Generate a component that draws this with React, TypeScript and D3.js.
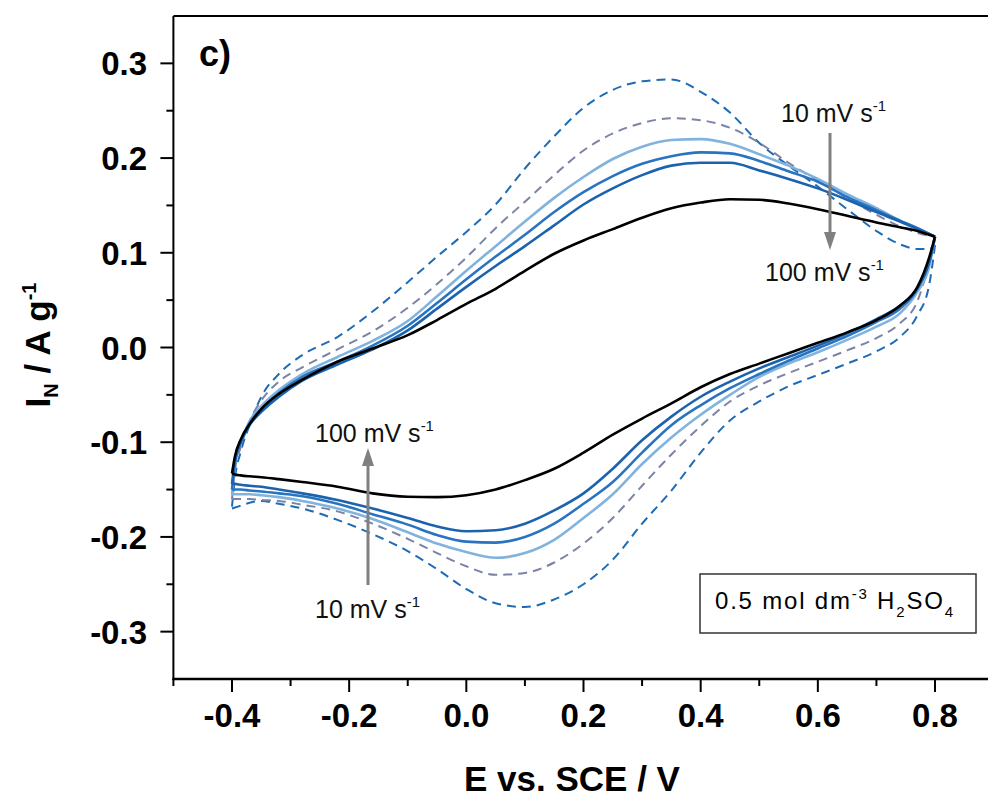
import React from 'react';
import * as d3 from 'd3';

// Potential grid (V vs SCE) shared by all branches
const E_GRID = [-0.4, -0.395, -0.385, -0.37, -0.35, -0.32, -0.28, -0.22, -0.16, -0.1, -0.05, 0, 0.05, 0.1, 0.15, 0.2, 0.25, 0.3, 0.35, 0.4, 0.45, 0.5, 0.55, 0.6, 0.65, 0.7, 0.74, 0.77, 0.79, 0.8];

// Normalised current (A g-1), anodic (upper) and cathodic (lower) branches, ascending E
const dashedBlueUp = [-0.168, -0.138, -0.11, -0.082, -0.052, -0.028, -0.008, 0.011, 0.038, 0.069, 0.096, 0.122, 0.151, 0.189, 0.223, 0.253, 0.272, 0.281, 0.283, 0.27, 0.248, 0.216, 0.192, 0.17, 0.146, 0.123, 0.109, 0.104, 0.104, 0.108];
const dashedBlueDown = [-0.17, -0.169, -0.167, -0.164, -0.162, -0.165, -0.17, -0.182, -0.197, -0.215, -0.234, -0.255, -0.27, -0.274, -0.266, -0.25, -0.224, -0.186, -0.151, -0.111, -0.077, -0.057, -0.041, -0.029, -0.017, -0.004, 0.011, 0.034, 0.066, 0.108];

const dashedGrayUp = [-0.16, -0.13, -0.105, -0.078, -0.056, -0.036, -0.021, -0.002, 0.017, 0.042, 0.067, 0.095, 0.126, 0.154, 0.182, 0.208, 0.226, 0.237, 0.242, 0.24, 0.232, 0.216, 0.195, 0.176, 0.158, 0.14, 0.128, 0.121, 0.118, 0.117];
const dashedGrayDown = [-0.16, -0.16, -0.16, -0.16, -0.161, -0.162, -0.166, -0.173, -0.186, -0.202, -0.217, -0.231, -0.24, -0.238, -0.227, -0.207, -0.18, -0.146, -0.113, -0.083, -0.057, -0.04, -0.027, -0.015, -0.003, 0.01, 0.0255, 0.049, 0.09, 0.117];

const lightBlueUp = [-0.155, -0.125, -0.1, -0.078, -0.062, -0.045, -0.028, -0.01, 0.007, 0.028, 0.054, 0.081, 0.107, 0.133, 0.158, 0.18, 0.199, 0.212, 0.219, 0.22, 0.215, 0.204, 0.192, 0.178, 0.162, 0.147, 0.134, 0.126, 0.12, 0.117];
const lightBlueDown = [-0.155, -0.155, -0.155, -0.155, -0.156, -0.158, -0.162, -0.17, -0.181, -0.195, -0.207, -0.216, -0.222, -0.217, -0.203, -0.18, -0.155, -0.123, -0.095, -0.071, -0.05, -0.031, -0.017, -0.005, 0.008, 0.022, 0.036, 0.059, 0.085, 0.117];

const midBlueUp = [-0.15, -0.122, -0.1, -0.08, -0.065, -0.048, -0.031, -0.015, 0.002, 0.023, 0.047, 0.072, 0.096, 0.119, 0.143, 0.164, 0.181, 0.194, 0.202, 0.206, 0.205, 0.197, 0.186, 0.175, 0.159, 0.145, 0.134, 0.126, 0.12, 0.117];
const midBlueDown = [-0.15, -0.15, -0.15, -0.151, -0.152, -0.154, -0.157, -0.165, -0.176, -0.187, -0.198, -0.205, -0.206, -0.2, -0.186, -0.165, -0.142, -0.111, -0.082, -0.061, -0.043, -0.028, -0.014, -0.001, 0.012, 0.027, 0.041, 0.062, 0.09, 0.117];

const darkBlueUp = [-0.144, -0.12, -0.1, -0.082, -0.068, -0.052, -0.035, -0.018, -0.002, 0.018, 0.041, 0.064, 0.086, 0.107, 0.129, 0.151, 0.168, 0.182, 0.192, 0.195, 0.195, 0.187, 0.178, 0.168, 0.156, 0.143, 0.133, 0.125, 0.12, 0.117];
const darkBlueDown = [-0.144, -0.144, -0.145, -0.146, -0.147, -0.15, -0.154, -0.161, -0.17, -0.18, -0.189, -0.194, -0.193, -0.186, -0.172, -0.154, -0.128, -0.098, -0.073, -0.052, -0.036, -0.022, -0.01, 0.002, 0.015, 0.03, 0.044, 0.063, 0.09, 0.117];

const blackUp = [-0.133, -0.115, -0.097, -0.081, -0.065, -0.049, -0.034, -0.015, -0.001, 0.013, 0.029, 0.046, 0.062, 0.081, 0.099, 0.113, 0.125, 0.137, 0.147, 0.153, 0.1565, 0.156, 0.152, 0.146, 0.139, 0.132, 0.127, 0.123, 0.119, 0.117];
const blackDown = [-0.133, -0.134, -0.135, -0.136, -0.137, -0.139, -0.142, -0.147, -0.154, -0.1575, -0.158, -0.156, -0.15, -0.14, -0.128, -0.111, -0.092, -0.075, -0.059, -0.042, -0.028, -0.017, -0.006, 0.005, 0.016, 0.029, 0.044, 0.064, 0.095, 0.117];

const X_MAJOR = [-0.4, -0.2, 0, 0.2, 0.4, 0.6, 0.8];
const X_MINOR = [-0.5, -0.3, -0.1, 0.1, 0.3, 0.5, 0.7];
const Y_MAJOR = [-0.3, -0.2, -0.1, 0, 0.1, 0.2, 0.3];
const Y_MINOR = [-0.25, -0.15, -0.05, 0.05, 0.15, 0.25];

const SERIES = [
  { up: dashedBlueUp, down: dashedBlueDown, color: '#1f6cb6', dash: '9,6', width: 2 },
  { up: dashedGrayUp, down: dashedGrayDown, color: '#7b83a6', dash: '9,6', width: 2 },
  { up: lightBlueUp, down: lightBlueDown, color: '#80b3de', dash: null, width: 2.6 },
  { up: midBlueUp, down: midBlueDown, color: '#2a74bf', dash: null, width: 2.6 },
  { up: darkBlueUp, down: darkBlueDown, color: '#1b63ae', dash: null, width: 2.6 },
  { up: blackUp, down: blackDown, color: '#000000', dash: null, width: 2.6 },
];

const W = 988;
const H = 798;
const FONT = 'Liberation Sans, Arial, sans-serif';

export default function App() {
  const x = d3.scaleLinear().domain([-0.5, 0.9]).range([173.4, 993.6]);
  const y = d3.scaleLinear().domain([-0.35, 0.35]).range([679, 16]);
  const line = d3
    .line<number>()
    .x((_, i) => x(E_GRID[i]))
    .y((d) => y(d))
    .curve(d3.curveMonotoneX);

  const x0 = x(-0.5);
  const yB = y(-0.35);
  const yT = y(0.35);
  const gray = '#808080';

  const arrow = (ax: number, yFrom: number, yTo: number) => {
    const dir = yTo > yFrom ? 1 : -1;
    const headLen = 18;
    const headW = 6;
    return (
      <g>
        <line x1={ax} y1={yFrom} x2={ax} y2={yTo - dir * headLen} stroke={gray} strokeWidth={3} />
        <path
          d={`M${ax - headW},${yTo - dir * headLen} L${ax + headW},${yTo - dir * headLen} L${ax},${yTo} Z`}
          fill={gray}
        />
      </g>
    );
  };

  const rate = (tx: number, ty: number, val: string) => (
    <text x={tx} y={ty} fontFamily={FONT} fontSize={25} fill="#111">
      {val} mV s<tspan dy={-11} fontSize={15}>-1</tspan>
    </text>
  );

  return (
    <svg
      width={W}
      height={H}
      style={{ position: 'absolute', left: 0, top: 0, background: '#fff' }}
    >
      <rect x={0} y={0} width={W} height={H} fill="#fff" />
      <defs>
        <clipPath id="plotClip">
          <rect x={x0} y={yT} width={W - x0} height={yB - yT} />
        </clipPath>
      </defs>

      <g clipPath="url(#plotClip)" fill="none" strokeLinejoin="round">
        {SERIES.map((s, i) => (
          <g key={i}>
            <path d={line(s.up) || ''} stroke={s.color} strokeWidth={s.width} strokeDasharray={s.dash || undefined} fill="none" />
            <path d={line(s.down) || ''} stroke={s.color} strokeWidth={s.width} strokeDasharray={s.dash || undefined} fill="none" />
          </g>
        ))}
      </g>

      {/* frame */}
      <line x1={x0} y1={yT} x2={W} y2={yT} stroke="#000" strokeWidth={2} />
      <line x1={x0} y1={yT} x2={x0} y2={yB + 1} stroke="#000" strokeWidth={2} />
      <line x1={x0 - 1} y1={yB} x2={W} y2={yB} stroke="#000" strokeWidth={2.5} />

      {/* y ticks */}
      {Y_MAJOR.map((v) => (
        <g key={'ym' + v}>
          <line x1={x0 - 13} y1={y(v)} x2={x0} y2={y(v)} stroke="#000" strokeWidth={2} />
          <text x={147} y={y(v) + 12} textAnchor="end" fontFamily={FONT} fontWeight="bold" fontSize={33} fill="#000">
            {v.toFixed(1)}
          </text>
        </g>
      ))}
      {Y_MINOR.map((v) => (
        <line key={'yn' + v} x1={x0 - 7} y1={y(v)} x2={x0} y2={y(v)} stroke="#000" strokeWidth={2} />
      ))}

      {/* x ticks */}
      {X_MAJOR.map((v) => (
        <g key={'xm' + v}>
          <line x1={x(v)} y1={yB} x2={x(v)} y2={yB + 13} stroke="#000" strokeWidth={2} />
          <text x={x(v)} y={727} textAnchor="middle" fontFamily={FONT} fontWeight="bold" fontSize={33} fill="#000">
            {v.toFixed(1)}
          </text>
        </g>
      ))}
      {X_MINOR.map((v) => (
        <line key={'xn' + v} x1={x(v)} y1={yB} x2={x(v)} y2={yB + 7} stroke="#000" strokeWidth={2} />
      ))}

      {/* axis titles */}
      <text x={572} y={791} textAnchor="middle" fontFamily={FONT} fontWeight="bold" fontSize={35} fill="#000">
        E vs. SCE / V
      </text>
      <text transform="translate(50,345) rotate(-90)" textAnchor="middle" fontFamily={FONT} fontWeight="bold" fontSize={35} fill="#000">
        I<tspan dy={8} fontSize={20}>N</tspan>
        <tspan dy={-8}> / A g</tspan>
        <tspan dy={-14} fontSize={20}>-1</tspan>
      </text>

      {/* panel label */}
      <text x={199} y={66} fontFamily={FONT} fontWeight="bold" fontSize={36} fill="#000">
        c)
      </text>

      {/* scan-rate annotations */}
      {rate(781, 122, '10')}
      {arrow(830, 133, 250)}
      {rate(765, 281, '100')}

      {rate(315, 442, '100')}
      {arrow(368, 585, 448)}
      {rate(315, 618, '10')}

      {/* electrolyte box */}
      <rect x={700} y={574} width={276} height={59} fill="#fff" stroke="#333" strokeWidth={1.5} />
      <text x={715} y={609} fontFamily={FONT} fontSize={24} letterSpacing={1.8} fill="#000">
        0.5 mol dm<tspan dy={-10} fontSize={15}>-3</tspan>
        <tspan dy={10}> H</tspan>
        <tspan dy={8} fontSize={15}>2</tspan>
        <tspan dy={-8}>SO</tspan>
        <tspan dy={8} fontSize={15}>4</tspan>
      </text>
    </svg>
  );
}
